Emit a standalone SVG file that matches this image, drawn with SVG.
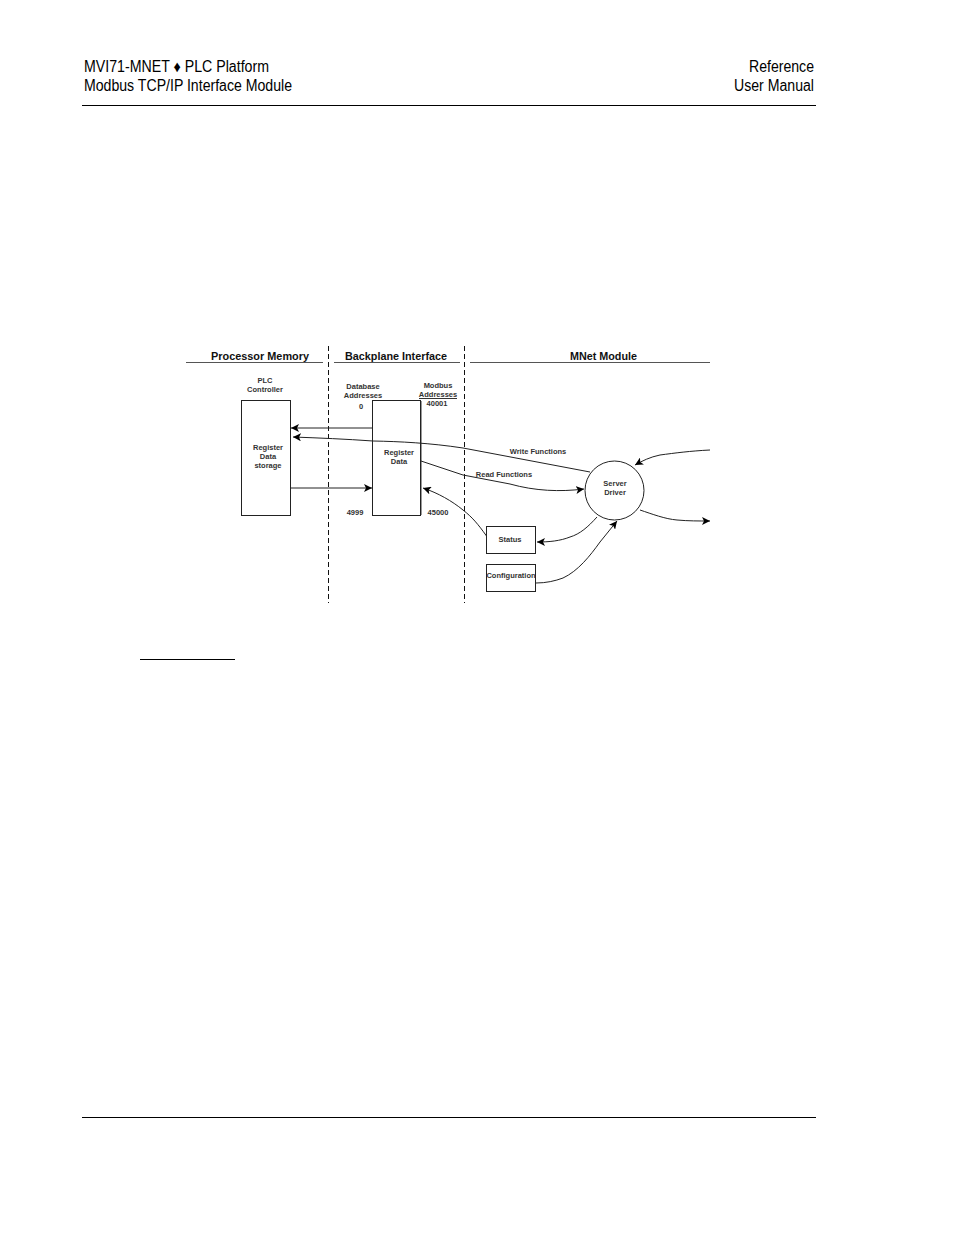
<svg xmlns="http://www.w3.org/2000/svg" width="954" height="1235" viewBox="0 0 954 1235">
<style>
text{font-family:"Liberation Sans",Arial,sans-serif;fill:#000}
.h{font-size:16px}
.t{font-size:10.5px;font-weight:bold;fill:#111}
.s{font-size:7.5px;font-weight:bold;text-anchor:middle;fill:#333}
.box{fill:none;stroke:#222;stroke-width:1}
.c{fill:none;stroke:#222;stroke-width:1}
.d{fill:none;stroke:#111;stroke-width:1;stroke-dasharray:5 3}
.r{stroke:#555;stroke-width:1;fill:none}
</style>
<defs><marker id="a" markerUnits="userSpaceOnUse" markerWidth="9" markerHeight="8" refX="8" refY="4" orient="auto"><path d="M0 0L8 4L0 8L2 4Z" fill="#000"/></marker></defs>
<rect width="954" height="1235" fill="#fff"/>
<g id="page">
<text class="h" x="84" y="72" textLength="185" lengthAdjust="spacingAndGlyphs">MVI71-MNET ♦ PLC Platform</text>
<text class="h" x="84" y="91" textLength="208" lengthAdjust="spacingAndGlyphs">Modbus TCP/IP Interface Module</text>
<text class="h" x="749" y="72" textLength="65" lengthAdjust="spacingAndGlyphs">Reference</text>
<text class="h" x="734" y="91" textLength="80" lengthAdjust="spacingAndGlyphs">User Manual</text>
<path d="M82 105.500H816M82 1117.500H816M140 659.500H235" stroke="#000" stroke-width="1" fill="none"/>
</g>
<g id="headers">
<text class="t" x="211" y="360" textLength="98" lengthAdjust="spacingAndGlyphs">Processor Memory</text>
<text class="t" x="345" y="360" textLength="102" lengthAdjust="spacingAndGlyphs">Backplane Interface</text>
<text class="t" x="570" y="360" textLength="67" lengthAdjust="spacingAndGlyphs">MNet Module</text>
<path class="r" d="M186 362.500H323M334 362.500H460M470 362.500H710"/>
<path class="d" d="M328.500 346V603M464.500 346V603"/>
</g>
<g id="plc"><rect class="box" x="241.500" y="400.500" width="49" height="115"/>
<text class="s" x="265" y="383">PLC</text><text class="s" x="265" y="392">Controller</text>
<text class="s" x="268" y="450">Register</text><text class="s" x="268" y="459">Data</text><text class="s" x="268" y="468">storage</text></g>
<g id="register"><rect class="box" x="372.500" y="400.500" width="48" height="115"/>
<path d="M421.500 401V515" stroke="#999" stroke-width="1" fill="none"/>
<text class="s" x="399" y="455">Register</text><text class="s" x="399" y="464">Data</text>
<text class="s" x="363" y="389">Database</text><text class="s" x="363" y="398">Addresses</text>
<text class="s" x="438" y="388">Modbus</text><text class="s" x="438" y="397">Addresses</text>
<path d="M419 398.500H457" stroke="#333" stroke-width="1" fill="none"/>
<text class="s" x="361" y="409">0</text><text class="s" x="437" y="406">40001</text>
<text class="s" x="355" y="515">4999</text><text class="s" x="438" y="515">45000</text></g>
<g id="server"><circle class="box" cx="614.500" cy="490.500" r="29.500"/>
<text class="s" x="615" y="486">Server</text><text class="s" x="615" y="495">Driver</text></g>
<g id="status"><rect class="box" x="486.500" y="526.500" width="49" height="27"/><text class="s" x="510" y="542">Status</text></g>
<g id="configuration"><rect class="box" x="486.500" y="564.500" width="49" height="27"/><text class="s" x="511" y="578">Configuration</text></g>
<g id="labels"><text class="s" x="538" y="454">Write Functions</text><text class="s" x="504" y="477">Read Functions</text></g>
<g id="connectors">
<path class="c" marker-end="url(#a)" d="M373 428H291"/>
<path class="c" marker-end="url(#a)" d="M590 472L463 448C430 443 400 441.500 373 441C345 439 320 438 293 437"/>
<path class="c" marker-end="url(#a)" d="M291 488H372"/>
<path class="c" marker-end="url(#a)" d="M421 461L463 475L510 484C535 491 560 492 584 489"/>
<path class="c" marker-end="url(#a)" d="M486.500 536C478 524 472 517 463 510C452 501 438 493 423 488"/>
<path class="c" marker-end="url(#a)" d="M710 450C690 451 675 453 660 455C650 457 642 461 635 465"/>
<path class="c" marker-end="url(#a)" d="M640 510C652 514 665 519 677 520C688 521 699 521 710 521"/>
<path class="c" marker-end="url(#a)" d="M597 517C588 527 580 534 570 537C560 541 549 542 537 542"/>
<path class="c" marker-end="url(#a)" d="M536 583C546 583 555 581 563 578C578 571 590 556 600 542L617 521"/>
</g>
</svg>
